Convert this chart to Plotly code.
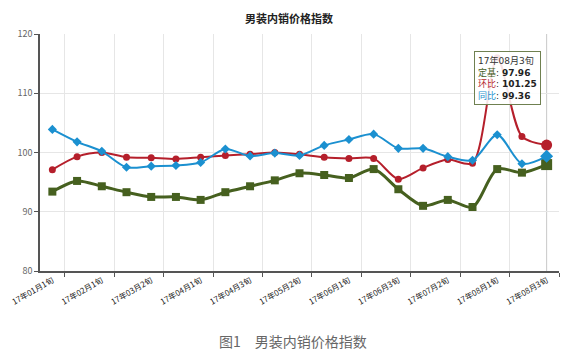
import plotly.graph_objects as go

categories = ["17年01月1旬", "17年01月2旬", "17年02月1旬", "17年02月2旬", "17年03月2旬",
              "17年03月3旬", "17年04月1旬", "17年04月2旬", "17年04月3旬", "17年05月1旬",
              "17年05月2旬", "17年05月3旬", "17年06月1旬", "17年06月2旬", "17年06月3旬",
              "17年07月1旬", "17年07月2旬", "17年07月3旬", "17年08月1旬", "17年08月2旬",
              "17年08月3旬"]
dingji = [93.4, 95.2, 94.3, 93.3, 92.5, 92.5, 92.0, 93.3, 94.3, 95.3, 96.5,
          96.2, 95.7, 97.2, 93.8, 91.0, 92.0, 90.8, 97.2, 96.6, 97.96]
huanbi = [97.1, 99.3, 100.0, 99.2, 99.1, 98.9, 99.2, 99.5, 99.7, 100.0, 99.7,
          99.2, 99.0, 99.0, 95.5, 97.4, 98.8, 98.2, 116.0, 102.7, 101.25]
tongbi = [103.9, 101.8, 100.2, 97.5, 97.7, 97.8, 98.3, 100.6, 99.4, 99.9, 99.5,
          101.2, 102.2, 103.1, 100.7, 100.7, 99.3, 98.7, 103.0, 98.1, 99.36]
y_ticks = [80, 90, 100, 110, 120]

GREEN = "#46601f"
RED = "#b51f2b"
BLUE = "#1b90d0"

n = len(categories)
xs = list(range(n))

fig = go.Figure()

def sizes(base, last):
    return [base] * (n - 1) + [last]

fig.add_trace(go.Scatter(
    x=xs, y=dingji, name="定基", mode="lines+markers",
    line=dict(color=GREEN, width=3, shape="spline", smoothing=0.8),
    marker=dict(symbol="square", size=sizes(8, 11), color=GREEN, opacity=1,
                line=dict(width=0)),
))
fig.add_trace(go.Scatter(
    x=xs, y=huanbi, name="环比", mode="lines+markers",
    line=dict(color=RED, width=2, shape="spline", smoothing=0.8),
    marker=dict(symbol="circle", size=sizes(7, 11), color=RED, opacity=1,
                line=dict(width=0)),
))
fig.add_trace(go.Scatter(
    x=xs, y=tongbi, name="同比", mode="lines+markers",
    line=dict(color=BLUE, width=2, shape="spline", smoothing=0.8),
    marker=dict(symbol="diamond", size=sizes(7, 10), color=BLUE, opacity=1,
                line=dict(width=0)),
))

# crosshair at hovered category
fig.add_shape(type="line", xref="x", yref="paper", x0=n - 1, x1=n - 1, y0=0, y1=1,
              line=dict(color="#c8c8c8", width=1), layer="below")

tip = (f"<span style='color:#333'>{categories[-1]}</span><br>"
       f"<span style='color:{GREEN}'>定基</span>: <b>{dingji[-1]:.2f}</b><br>"
       f"<span style='color:{RED}'>环比</span>: <b>{huanbi[-1]:.2f}</b><br>"
       f"<span style='color:{BLUE}'>同比</span>: <b>{tongbi[-1]:.2f}</b>")
fig.add_annotation(
    x=17.05, y=117.1, xref="x", yref="y", xanchor="left", yanchor="top",
    text=tip, showarrow=False, align="left",
    font=dict(family="DejaVu Sans, Noto Sans CJK SC", size=9, color="#222"),
    bgcolor="rgba(255,255,255,0.88)", bordercolor="#6f8050", borderwidth=1, borderpad=3,
)

# figure caption below chart (plot area spans y=34..271 px, x=33..559 px)
fig.add_annotation(
    x=(289 - 33) / 526, y=(271 - 341) / 237, xref="paper", yref="paper",
    text="图1　男装内销价格指数", showarrow=False,
    font=dict(family="Noto Sans CJK SC", size=14, color="#666"),
    xanchor="center", yanchor="middle",
)

fig.update_layout(
    width=569, height=354,
    margin=dict(l=33, r=10, t=34, b=83),
    paper_bgcolor="white", plot_bgcolor="white",
    showlegend=False,
    title=dict(text="<b>男装内销价格指数</b>", x=289 / 569, xref="container",
               y=1 - 19 / 354, yref="container", xanchor="center", yanchor="middle",
               font=dict(family="Noto Sans CJK SC", size=11, color="#222")),
    font=dict(family="Noto Sans CJK SC, DejaVu Sans"),
)

fig.update_xaxes(
    range=[-0.5, n - 0.5], tickmode="array", tickvals=xs[::2],
    ticktext=categories[::2], tickangle=-30, ticks="", showgrid=False,
    tickfont=dict(size=8, color="#222"),
    showline=True, linecolor="#555", linewidth=1.5, zeroline=False,
    minor=dict(tick0=0.5, dtick=2, ticks="outside", ticklen=4, tickcolor="#555",
               showgrid=True, gridcolor="#e6e6e6", gridwidth=1),
)
fig.update_yaxes(
    range=[80, 120], tickmode="array", tickvals=y_ticks,
    ticks="outside", ticklen=4, tickcolor="#555",
    showgrid=True, gridcolor="#e6e6e6", gridwidth=1,
    showline=True, linecolor="#555", linewidth=1.5, zeroline=False,
    tickfont=dict(size=9, color="#666"),
)

fig.write_html("out.html")
